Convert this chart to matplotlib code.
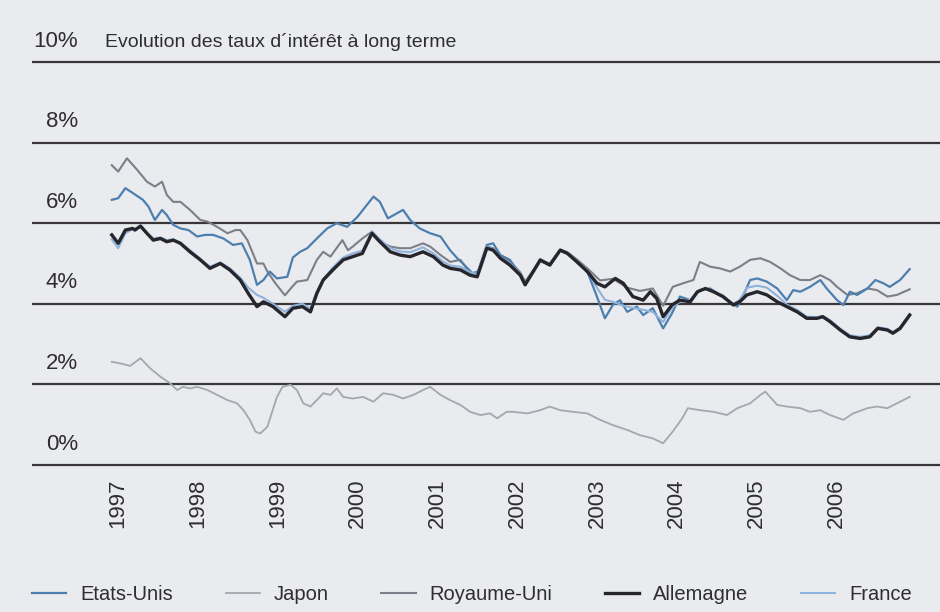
import matplotlib
matplotlib.use("Agg")
import matplotlib.pyplot as plt
import matplotlib.transforms as mtransforms
from matplotlib import font_manager

# ---------------- data ----------------
years = [1997, 1998, 1999, 2000, 2001, 2002, 2003, 2004, 2005, 2006]
y_ticks = [0, 2, 4, 6, 8, 10]
y_tick_labels = ["0%", "2%", "4%", "6%", "8%", "10%"]
title = "Evolution des taux d\u00b4int\u00e9r\u00eat \u00e0 long terme"
series_names = ["Etats-Unis", "Japon", "Royaume-Uni", "Allemagne", "France"]

us_x = [1996.92, 1997.00, 1997.09, 1997.19, 1997.31, 1997.38, 1997.46, 1997.55, 1997.61, 1997.69,
        1997.78, 1997.88, 1997.99, 1998.09, 1998.19, 1998.32, 1998.44, 1998.55, 1998.65, 1998.74,
        1998.82, 1998.90, 1998.99, 1999.12, 1999.19, 1999.28, 1999.37, 1999.49, 1999.62, 1999.74,
        1999.87, 2000.00, 2000.20, 2000.28, 2000.38, 2000.57, 2000.66, 2000.78, 2000.91, 2001.04,
        2001.16, 2001.25, 2001.32, 2001.44, 2001.51, 2001.62, 2001.70, 2001.79, 2001.91, 2002.04,
        2002.10, 2002.19, 2002.29, 2002.41, 2002.54, 2002.63, 2002.75, 2002.88, 2003.00, 2003.10,
        2003.20, 2003.29, 2003.38, 2003.50, 2003.58, 2003.70, 2003.83, 2003.94, 2004.04, 2004.17,
        2004.29, 2004.42, 2004.54, 2004.67, 2004.76, 2004.83, 2004.92, 2005.01, 2005.13, 2005.26,
        2005.38, 2005.46, 2005.55, 2005.67, 2005.80, 2005.88, 2006.01, 2006.09, 2006.17, 2006.26,
        2006.39, 2006.49, 2006.59, 2006.67, 2006.80, 2006.92]
us_y = [6.58, 6.62, 6.87, 6.74, 6.58, 6.41, 6.08, 6.33, 6.20, 5.96,
        5.87, 5.83, 5.67, 5.71, 5.71, 5.62, 5.46, 5.50, 5.09, 4.47,
        4.59, 4.80, 4.63, 4.67, 5.15, 5.29, 5.38, 5.62, 5.87, 6.00,
        5.91, 6.16, 6.66, 6.53, 6.12, 6.33, 6.08, 5.87, 5.75, 5.67,
        5.33, 5.13, 5.00, 4.76, 4.80, 5.46, 5.50, 5.21, 5.09, 4.71,
        4.47, 4.76, 5.06, 4.96, 5.33, 5.25, 5.04, 4.80, 4.18, 3.64,
        3.97, 4.09, 3.80, 3.93, 3.72, 3.89, 3.39, 3.76, 4.18, 4.09,
        4.34, 4.38, 4.22, 4.05, 3.93, 4.18, 4.59, 4.63, 4.55, 4.38,
        4.09, 4.34, 4.30, 4.42, 4.59, 4.38, 4.09, 3.97, 4.30, 4.22,
        4.38, 4.59, 4.51, 4.42, 4.59, 4.86]

jp_x = [1996.92, 1997.03, 1997.15, 1997.28, 1997.40, 1997.53, 1997.65, 1997.74, 1997.81, 1997.90,
        1997.99, 1998.12, 1998.24, 1998.37, 1998.49, 1998.57, 1998.65, 1998.72, 1998.78, 1998.87,
        1998.93, 1998.99, 1999.06, 1999.16, 1999.24, 1999.32, 1999.41, 1999.49, 1999.57, 1999.66,
        1999.74, 1999.82, 1999.94, 2000.07, 2000.20, 2000.32, 2000.45, 2000.57, 2000.70, 2000.82,
        2000.91, 2001.04, 2001.16, 2001.29, 2001.41, 2001.54, 2001.66, 2001.75, 2001.87, 2001.95,
        2002.13, 2002.29, 2002.41, 2002.54, 2002.70, 2002.88, 2003.04, 2003.20, 2003.38, 2003.54,
        2003.70, 2003.83, 2003.95, 2004.07, 2004.14, 2004.29, 2004.46, 2004.63, 2004.76, 2004.92,
        2005.05, 2005.11, 2005.17, 2005.26, 2005.38, 2005.55, 2005.67, 2005.80, 2005.92, 2006.09,
        2006.21, 2006.39, 2006.51, 2006.64, 2006.80, 2006.92]
jp_y = [2.56, 2.52, 2.46, 2.65, 2.40, 2.19, 2.03, 1.86, 1.94, 1.90,
        1.94, 1.86, 1.74, 1.61, 1.53, 1.36, 1.12, 0.83, 0.78, 0.95,
        1.32, 1.69, 1.94, 1.99, 1.86, 1.53, 1.45, 1.61, 1.78, 1.74,
        1.90, 1.69, 1.65, 1.69, 1.57, 1.78, 1.74, 1.65, 1.74, 1.86,
        1.94, 1.74, 1.61, 1.49, 1.32, 1.24, 1.28, 1.16, 1.32, 1.32,
        1.28, 1.36, 1.45, 1.36, 1.32, 1.28, 1.12, 0.99, 0.87, 0.74,
        0.66, 0.54, 0.83, 1.16, 1.41, 1.36, 1.32, 1.24, 1.41, 1.53,
        1.74, 1.82, 1.69, 1.49, 1.45, 1.41, 1.32, 1.36, 1.24, 1.12,
        1.28, 1.41, 1.45, 1.41, 1.57, 1.69]

uk_x = [1996.92, 1997.00, 1997.11, 1997.24, 1997.36, 1997.46, 1997.55, 1997.61, 1997.69, 1997.78,
        1997.90, 1998.03, 1998.12, 1998.24, 1998.37, 1998.47, 1998.53, 1998.62, 1998.74, 1998.82,
        1998.87, 1998.97, 1999.09, 1999.18, 1999.24, 1999.37, 1999.49, 1999.57, 1999.66, 1999.81,
        1999.88, 1999.94, 2000.06, 2000.18, 2000.28, 2000.41, 2000.53, 2000.66, 2000.82, 2000.91,
        2001.04, 2001.16, 2001.29, 2001.41, 2001.50, 2001.62, 2001.70, 2001.79, 2001.91, 2002.04,
        2002.10, 2002.19, 2002.29, 2002.41, 2002.54, 2002.63, 2002.75, 2002.88, 2003.04, 2003.20,
        2003.38, 2003.54, 2003.70, 2003.83, 2003.95, 2004.08, 2004.21, 2004.29, 2004.42, 2004.54,
        2004.67, 2004.79, 2004.92, 2005.05, 2005.17, 2005.30, 2005.42, 2005.55, 2005.67, 2005.80,
        2005.92, 2006.01, 2006.14, 2006.26, 2006.39, 2006.51, 2006.64, 2006.76, 2006.92]
uk_y = [7.44, 7.28, 7.61, 7.32, 7.03, 6.91, 7.03, 6.70, 6.53, 6.53,
        6.33, 6.08, 6.04, 5.91, 5.75, 5.83, 5.83, 5.58, 5.00, 5.00,
        4.80, 4.51, 4.21, 4.42, 4.55, 4.59, 5.09, 5.29, 5.17, 5.58,
        5.33, 5.42, 5.62, 5.79, 5.54, 5.42, 5.38, 5.38, 5.50, 5.42,
        5.21, 5.04, 5.09, 4.76, 4.76, 5.42, 5.38, 5.17, 5.05, 4.78,
        4.55, 4.80, 5.08, 5.00, 5.35, 5.28, 5.10, 4.88, 4.58, 4.62,
        4.40, 4.32, 4.38, 3.95, 4.42, 4.51, 4.59, 5.04, 4.92, 4.88,
        4.80, 4.92, 5.09, 5.13, 5.04, 4.88, 4.71, 4.59, 4.59, 4.71,
        4.59, 4.42, 4.22, 4.26, 4.38, 4.34, 4.18, 4.22, 4.36]

de_x = [1996.92, 1997.00, 1997.09, 1997.18, 1997.21, 1997.28, 1997.36, 1997.44, 1997.53, 1997.61,
        1997.69, 1997.78, 1997.90, 1998.03, 1998.15, 1998.28, 1998.40, 1998.53, 1998.63, 1998.74,
        1998.82, 1998.94, 1999.09, 1999.19, 1999.31, 1999.41, 1999.49, 1999.57, 1999.69, 1999.82,
        1999.94, 2000.06, 2000.18, 2000.28, 2000.41, 2000.53, 2000.66, 2000.82, 2000.95, 2001.07,
        2001.16, 2001.29, 2001.41, 2001.50, 2001.62, 2001.70, 2001.79, 2001.91, 2002.04, 2002.10,
        2002.19, 2002.29, 2002.41, 2002.54, 2002.63, 2002.75, 2002.88, 2003.00, 2003.10, 2003.23,
        2003.33, 2003.45, 2003.58, 2003.67, 2003.75, 2003.83, 2003.94, 2004.04, 2004.17, 2004.26,
        2004.36, 2004.46, 2004.58, 2004.71, 2004.79, 2004.88, 2005.01, 2005.13, 2005.26, 2005.38,
        2005.51, 2005.63, 2005.76, 2005.83, 2005.92, 2006.05, 2006.17, 2006.30, 2006.42, 2006.52,
        2006.64, 2006.71, 2006.80, 2006.92]
de_y = [5.71, 5.50, 5.83, 5.87, 5.83, 5.93, 5.75, 5.58, 5.62, 5.54,
        5.58, 5.50, 5.29, 5.09, 4.88, 5.00, 4.84, 4.59, 4.26, 3.93,
        4.05, 3.93, 3.68, 3.89, 3.93, 3.80, 4.26, 4.59, 4.84, 5.09,
        5.17, 5.25, 5.75, 5.54, 5.29, 5.21, 5.17, 5.29, 5.17, 4.96,
        4.88, 4.84, 4.71, 4.67, 5.38, 5.33, 5.13, 4.96, 4.71, 4.47,
        4.76, 5.09, 4.96, 5.33, 5.25, 5.04, 4.80, 4.51, 4.42, 4.63,
        4.51, 4.18, 4.09, 4.30, 4.13, 3.68, 3.97, 4.09, 4.05, 4.30,
        4.38, 4.30, 4.18, 3.97, 4.05, 4.22, 4.30, 4.22, 4.05, 3.93,
        3.80, 3.64, 3.64, 3.68, 3.56, 3.35, 3.18, 3.14, 3.18, 3.39,
        3.35, 3.27, 3.39, 3.72]

fr_x = [1996.92, 1997.00, 1997.09, 1997.18, 1997.28, 1997.36, 1997.44, 1997.53, 1997.61, 1997.69,
        1997.78, 1997.90, 1998.03, 1998.15, 1998.28, 1998.40, 1998.53, 1998.63, 1998.74, 1998.82,
        1998.94, 1999.09, 1999.19, 1999.31, 1999.41, 1999.49, 1999.57, 1999.69, 1999.82, 1999.94,
        2000.06, 2000.18, 2000.28, 2000.41, 2000.53, 2000.66, 2000.82, 2000.95, 2001.07, 2001.16,
        2001.29, 2001.41, 2001.50, 2001.62, 2001.70, 2001.79, 2001.91, 2002.04, 2002.10, 2002.19,
        2002.29, 2002.41, 2002.54, 2002.63, 2002.75, 2002.88, 2003.00, 2003.10, 2003.20, 2003.33,
        2003.45, 2003.58, 2003.70, 2003.83, 2003.94, 2004.04, 2004.17, 2004.26, 2004.36, 2004.46,
        2004.58, 2004.71, 2004.79, 2004.88, 2005.01, 2005.13, 2005.26, 2005.38, 2005.51, 2005.63,
        2005.76, 2005.83, 2005.92, 2006.05, 2006.17, 2006.30, 2006.42, 2006.52, 2006.64, 2006.71,
        2006.80, 2006.92]
fr_y = [5.60, 5.38, 5.75, 5.85, 5.90, 5.75, 5.62, 5.65, 5.58, 5.60,
        5.52, 5.33, 5.12, 4.92, 5.03, 4.88, 4.65, 4.40, 4.22, 4.15,
        4.00, 3.80, 3.95, 4.00, 3.88, 4.30, 4.62, 4.90, 5.15, 5.25,
        5.32, 5.80, 5.60, 5.38, 5.30, 5.28, 5.40, 5.25, 5.05, 4.95,
        4.92, 4.78, 4.74, 5.42, 5.36, 5.15, 5.00, 4.74, 4.50, 4.78,
        5.10, 4.98, 5.33, 5.25, 5.06, 4.82, 4.40, 4.10, 4.05, 3.95,
        3.90, 3.85, 3.80, 3.55, 3.90, 4.05, 4.10, 4.30, 4.38, 4.32,
        4.20, 4.00, 4.10, 4.40, 4.45, 4.40, 4.20, 3.98, 3.85, 3.68,
        3.67, 3.70, 3.60, 3.38, 3.22, 3.18, 3.22, 3.42, 3.38, 3.30,
        3.42, 3.75]

# ---------------- style ----------------
bg = "#eaebef"
txt = "#2e2e30"
grid_c = "#3a3638"

names = [f.name for f in font_manager.fontManager.ttflist]
narrow = "Liberation Sans Narrow" if "Liberation Sans Narrow" in names else "Liberation Sans"
plt.rcParams["font.family"] = ["Liberation Sans", "DejaVu Sans"]

W, H = 940, 612
fig = plt.figure(figsize=(W / 100, H / 100), dpi=100, facecolor=bg)
ax_left, ax_right, ax_top, ax_bot = 32, 940, 20, 470
ax = fig.add_axes([ax_left / W, 1 - ax_bot / H, (ax_right - ax_left) / W, (ax_bot - ax_top) / H])
ax.set_facecolor("none")
ax.set_xlim(1995.92, 2007.30)
ax.set_ylim((465 - 470) / 40.3, (465 - 20) / 40.3)
for s in ax.spines.values():
    s.set_visible(False)

for v in y_ticks:
    ax.axhline(v, color=grid_c, lw=1.6, zorder=1)

ax.set_yticks([])
ax.set_xticks(years)
ax.set_xticklabels([str(y) for y in years], rotation=90, fontsize=16, color=txt,
                   family=[narrow, "Liberation Sans"])
ax.tick_params(axis="x", length=0, pad=6)

trans = mtransforms.blended_transform_factory(ax.transAxes, ax.transData)
xl = (78 - ax_left) / (ax_right - ax_left)
for v, lab in zip(y_ticks, y_tick_labels):
    ax.text(xl, v + 0.38, lab, transform=trans, ha="right", va="baseline",
            fontsize=16, color=txt, clip_on=False)
ax.text((105 - ax_left) / (ax_right - ax_left), 10 + 0.38, title, transform=trans,
        ha="left", va="baseline", fontsize=14, color=txt, clip_on=False)

l_jp, = ax.plot(jp_x, jp_y, color="#a3a7ae", lw=1.3, zorder=3)
l_uk, = ax.plot(uk_x, uk_y, color="#7c7f88", lw=1.5, zorder=3)
l_us, = ax.plot(us_x, us_y, color="#4d7fae", lw=1.6, zorder=4)
l_fr, = ax.plot(fr_x, fr_y, color="#8fb2dc", lw=1.5, zorder=4)
l_de, = ax.plot(de_x, de_y, color="#26252b", lw=2.4, zorder=5)

handles = [l_us, l_jp, l_uk, l_de, l_fr]
leg = fig.legend(handles, series_names, loc="lower left",
                 bbox_to_anchor=(32 / W, 1 - 604 / H, (912 - 32) / W, 30 / H),
                 mode="expand", ncol=5, frameon=False, handlelength=1.7,
                 handletextpad=0.7, borderaxespad=0, borderpad=0,
                 prop={"family": [narrow, "Liberation Sans"], "size": 14.5})
for t in leg.get_texts():
    t.set_color(txt)

fig.savefig("out.png", dpi=100, facecolor=bg)
